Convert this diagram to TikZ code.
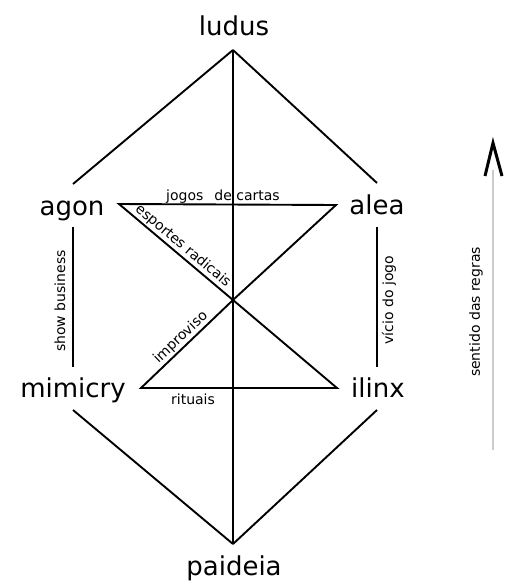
\documentclass[tikz,border=0pt]{standalone}
\usepackage{fontspec}
\setmainfont{DejaVu Sans}
\begin{document}
\begin{tikzpicture}[x=1pt,y=-1pt,
  big/.style={font=\fontsize{26}{30}\selectfont, inner sep=0pt, anchor=base},
  lbl/.style={font=\fontsize{14}{16}\selectfont, inner sep=0pt},
  edge/.style={line width=1.9pt, line join=miter},
  rule/.style={line width=1.5pt, draw=black!20}]
\useasboundingbox (0,0) rectangle (506,581);
% labels
\node[big] (ludus) at (234,35) {ludus};
\node[big] (agon) at (72,215) {agon};
\node[big] (alea) at (377,214) {alea};
\node[big] (mimicry) at (73,397) {mimicry};
\node[big] (ilinx) at (378,397) {ilinx};
\node[big] (paideia) at (234,575) {paideia};
% vertices
\coordinate (top) at (233,50);
\coordinate (bot) at (233,544);
\coordinate (ulL) at (73,184);
\coordinate (ulR) at (377,183);
\coordinate (llL) at (73,410);
\coordinate (llR) at (377,410);
\coordinate (vLt) at (73,227);
\coordinate (vLb) at (73,367);
\coordinate (vRt) at (377,227);
\coordinate (vRb) at (377,367);
\coordinate (tA) at (119,204);
\coordinate (tB) at (336,205);
\coordinate (mid) at (233,300);
\coordinate (bA) at (141,388);
\coordinate (bB) at (337,388);
% outer lines
\draw[edge] (top) -- (ulL);
\draw[edge] (top) -- (ulR);
\draw[edge] (bot) -- (llL);
\draw[edge] (bot) -- (llR);
\draw[edge] (top) -- (bot);
\draw[edge] (vLt) -- (vLb);
\draw[edge] (vRt) -- (vRb);
\node[lbl, rotate=90] (show) at (60,301) {show business};
\node[lbl, rotate=90] (vicio) at (389,300) {vício do jogo};
% triangles
\draw[edge] (tA) -- (tB) -- (mid) -- cycle;
\draw[edge] (bA) -- (bB) -- (mid) -- cycle;
\node[lbl, anchor=base] (jogos) at (223,200) {jogos\hspace{11pt}de cartas};
\node[lbl, anchor=base] (rituais) at (193,404) {rituais};
\path (tA) -- node[lbl, sloped, above=2pt, pos=0.51] (esp) {esportes radicais} (mid);
\path (bA) -- node[lbl, sloped, above=2pt, pos=0.5] (imp) {improviso} (mid);
% sentido das regras
\coordinate (sBot) at (493,450);
\coordinate (sTop) at (493,170);
\draw[rule] (sBot) -- (sTop);
\coordinate (aL) at (485,176);
\coordinate (aT) at (493,143);
\coordinate (aR) at (502,176);
\draw[line width=3pt, line join=miter] (aL) -- (aT) -- (aR);
\node[lbl, rotate=90] (sentido) at (476,312) {sentido das regras};
\end{tikzpicture}
\end{document}
